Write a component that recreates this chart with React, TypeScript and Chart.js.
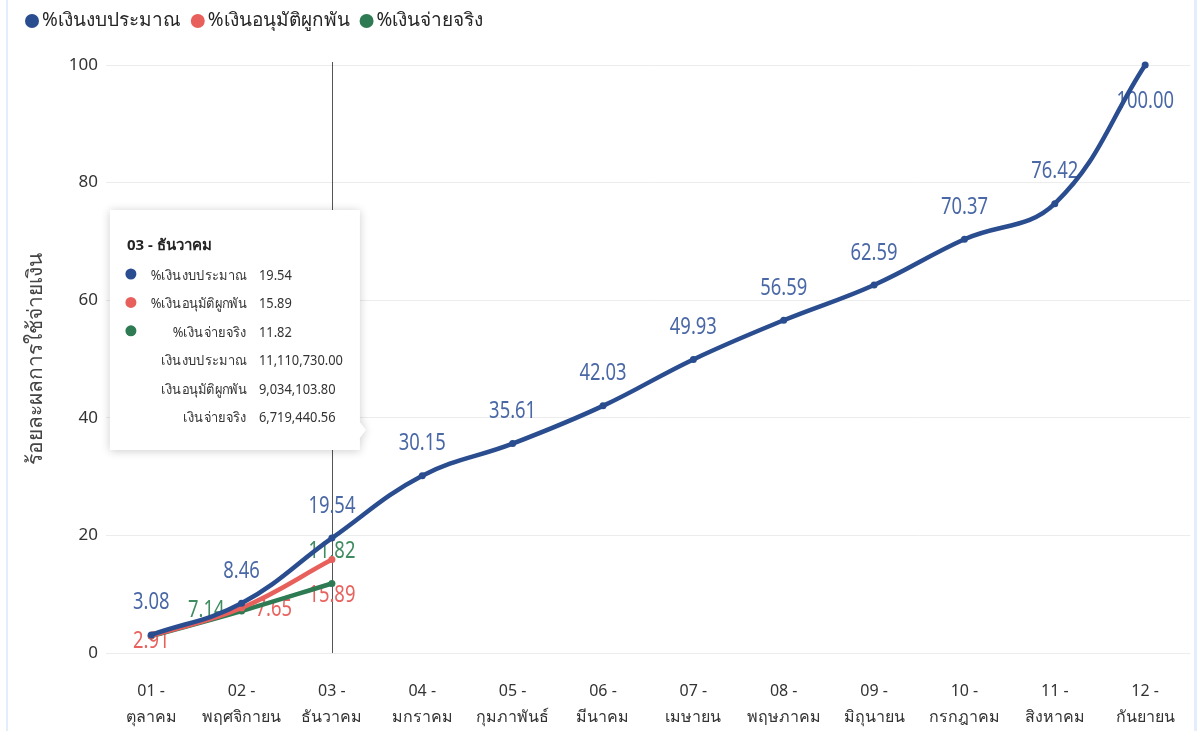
import React, { useEffect, useRef } from 'react';
import { Chart, registerables } from 'chart.js';

Chart.register(...registerables);

const monthCodes = ['01 -', '02 -', '03 -', '04 -', '05 -', '06 -', '07 -', '08 -', '09 -', '10 -', '11 -', '12 -'];
const monthNames = ['ตุลาคม', 'พฤศจิกายน', 'ธันวาคม', 'มกราคม', 'กุมภาพันธ์', 'มีนาคม', 'เมษายน', 'พฤษภาคม', 'มิถุนายน', 'กรกฎาคม', 'สิงหาคม', 'กันยายน'];

const seriesNames = ['%เงินงบประมาณ', '%เงินอนุมัติผูกพัน', '%เงินจ่ายจริง'];
const budgetPct = [3.08, 8.46, 19.54, 30.15, 35.61, 42.03, 49.93, 56.59, 62.59, 70.37, 76.42, 100.0];
const committedPct = [2.91, 7.65, 15.89];
const paidPct = [2.88, 7.14, 11.82];

const yTicks = [0, 20, 40, 60, 80, 100];
const yTitle = 'ร้อยละผลการใช้จ่ายเงิน';

// label placement keywords per point (null = hidden)
const budgetLabelPos = ['above', 'above', 'above', 'above', 'above', 'above', 'above', 'above', 'above', 'above', 'above', 'below'];
const committedLabelPos = ['below', 'right', 'below'];
const paidLabelPos = [null, 'left', 'above'];

const tooltipIndex = 2;
const tooltipTitle = '03 - ธันวาคม';
const amountNames = ['เงินงบประมาณ', 'เงินอนุมัติผูกพัน', 'เงินจ่ายจริง'];
const amountValues = ['11,110,730.00', '9,034,103.80', '6,719,440.56'];

const lineColors = ['#2a4d8f', '#e8605c', '#2e7a52'];
const labelColors = ['#4a68a6', '#e8625e', '#3f8c60'];

const FONT = '"Segoe UI", "Noto Sans", "DejaVu Sans", sans-serif';

const fillNarrow = (ctx: any, text: string, x: number, y: number, sx: number, align: string) => {
  ctx.save();
  ctx.translate(x, y);
  ctx.scale(sx, 1);
  ctx.textAlign = align;
  ctx.fillText(text, 0, 0);
  ctx.restore();
};

const overlayPlugin = {
  id: 'overlay',
  beforeDatasetsDraw(chart: any) {
    const ctx = chart.ctx;
    const area = chart.chartArea;
    const xs = chart.scales.x;
    // vertical hover line
    const vx = Math.round(xs.getPixelForValue(tooltipIndex)) + 0.5;
    ctx.save();
    ctx.strokeStyle = '#555';
    ctx.lineWidth = 1;
    ctx.beginPath();
    ctx.moveTo(vx, area.top - 3);
    ctx.lineTo(vx, area.bottom);
    ctx.stroke();
    ctx.restore();

    // data labels (beneath the lines)
    const placements = [budgetLabelPos, committedLabelPos, paidLabelPos];
    const sx = 0.8;
    ctx.save();
    ctx.font = '23px ' + FONT;
    ctx.textBaseline = 'middle';
    chart.data.datasets.forEach((ds: any, di: number) => {
      const meta = chart.getDatasetMeta(di);
      ctx.fillStyle = labelColors[di];
      meta.data.forEach((pt: any, i: number) => {
        const pos = placements[di][i];
        if (!pos) return;
        const text = Number(ds.data[i]).toFixed(2);
        const w = ctx.measureText(text).width * sx;
        let cx = pt.x;
        let cy = pt.y;
        if (pos === 'above') cy -= 32;
        else if (pos === 'below') cy += 36;
        else if (pos === 'right') { cx += w / 2 + 14; cy += 1; }
        else if (pos === 'left') { cx -= w / 2 + 17; cy -= 1; }
        cy = Math.min(cy, area.bottom - 12);
        fillNarrow(ctx, text, cx, cy, sx, 'center');
      });
    });
    ctx.restore();
  },
  afterDraw(chart: any) {
    const ctx = chart.ctx;
    const area = chart.chartArea;
    const xs = chart.scales.x;

    // legend
    ctx.save();
    ctx.font = '19px ' + FONT;
    ctx.textBaseline = 'middle';
    ctx.textAlign = 'left';
    let lx = 25;
    const ly = 21;
    seriesNames.forEach((name, i) => {
      ctx.fillStyle = lineColors[i];
      ctx.beginPath();
      ctx.arc(lx + 7, ly, 7, 0, Math.PI * 2);
      ctx.fill();
      ctx.fillStyle = '#252525';
      ctx.fillText(name, lx + 17, ly);
      lx += 17 + ctx.measureText(name).width + 10;
    });
    ctx.restore();

    // y axis title
    ctx.save();
    ctx.translate(36, (area.top + area.bottom) / 2);
    ctx.rotate(-Math.PI / 2);
    ctx.font = '21px ' + FONT;
    ctx.fillStyle = '#444';
    ctx.textAlign = 'center';
    ctx.textBaseline = 'middle';
    ctx.fillText(yTitle, 0, 0);
    ctx.restore();

    // tooltip
    const px = xs.getPixelForValue(tooltipIndex);
    const bx = px - 222;
    const by = area.top + 145;
    const bw = 250;
    const bh = 240;
    ctx.save();
    ctx.shadowColor = 'rgba(0,0,0,0.2)';
    ctx.shadowBlur = 10;
    ctx.shadowOffsetX = 0;
    ctx.shadowOffsetY = 1;
    ctx.fillStyle = '#ffffff';
    ctx.beginPath();
    ctx.moveTo(bx, by);
    ctx.lineTo(bx + bw, by);
    ctx.lineTo(bx + bw, by + bh - 28);
    ctx.lineTo(bx + bw + 6, by + bh - 20);
    ctx.lineTo(bx + bw, by + bh - 12);
    ctx.lineTo(bx + bw, by + bh);
    ctx.lineTo(bx, by + bh);
    ctx.closePath();
    ctx.fill();
    ctx.restore();

    ctx.save();
    ctx.textBaseline = 'middle';
    ctx.fillStyle = '#252525';
    ctx.font = 'bold 15px ' + FONT;
    ctx.textAlign = 'left';
    ctx.fillText(tooltipTitle, bx + 17, by + 36);
    const rowLabels = [...seriesNames, ...amountNames];
    const pctValues = [budgetPct[tooltipIndex], committedPct[tooltipIndex], paidPct[tooltipIndex]].map((v) => v.toFixed(2));
    const rowValues = [...pctValues, ...amountValues];
    ctx.font = '14px ' + FONT;
    rowLabels.forEach((lab, i) => {
      const ry = by + 66 + i * 28.4;
      if (i < 3) {
        ctx.fillStyle = lineColors[i];
        ctx.beginPath();
        ctx.arc(bx + 21, ry - 2, 5.5, 0, Math.PI * 2);
        ctx.fill();
      }
      ctx.fillStyle = '#333';
      fillNarrow(ctx, lab, bx + 137, ry, 0.92, 'right');
      fillNarrow(ctx, rowValues[i], bx + 149, ry, 0.92, 'left');
    });
    ctx.restore();
  },
};

export default function App() {
  const canvasRef = useRef<HTMLCanvasElement | null>(null);

  useEffect(() => {
    document.body.style.margin = '0';
    const canvas = canvasRef.current;
    if (!canvas) return;
    const labels = monthCodes.map((c, i) => [c, monthNames[i]]);
    const mk = (data: number[], i: number) => ({
      label: seriesNames[i],
      data,
      borderColor: lineColors[i],
      backgroundColor: lineColors[i],
      borderWidth: 4.5,
      pointRadius: 3.5,
      pointBorderWidth: 0,
      pointBackgroundColor: lineColors[i],
      tension: 0.4,
      fill: false,
      clip: false,
      order: i,
    });
    const chart = new Chart(canvas, {
      type: 'line',
      data: {
        labels,
        datasets: [mk(budgetPct, 0), mk(committedPct, 1), mk(paidPct, 2)],
      },
      options: {
        responsive: false,
        animation: false,
        devicePixelRatio: 1,
        layout: { padding: { top: 65, right: 8, left: 0, bottom: 0 } },
        plugins: {
          legend: { display: false },
          tooltip: { enabled: false },
        },
        scales: {
          x: {
            offset: true,
            grid: { display: false, drawTicks: false },
            border: { display: false },
            ticks: {
              font: { size: 16, family: FONT, lineHeight: 1.6 },
              color: '#333',
              padding: 26,
              maxRotation: 0,
              autoSkip: false,
            },
            afterFit: (s: any) => { s.height = 78; },
          },
          y: {
            min: 0,
            max: 100,
            afterBuildTicks: (s: any) => { s.ticks = yTicks.map((v) => ({ value: v })); },
            ticks: { font: { size: 17, family: FONT }, color: '#333', padding: 8 },
            grid: { color: '#ececec', drawTicks: false, lineWidth: 1 },
            border: { display: false },
            afterFit: (s: any) => { s.width = 106; },
          },
        },
      },
      plugins: [overlayPlugin],
    });
    return () => chart.destroy();
  }, []);

  return (
    <div style={{ position: 'relative', width: 1201, height: 731, background: '#fff' }}>
      <div style={{ position: 'absolute', left: 6, top: 0, width: 2, height: 731, background: '#e4eefa' }} />
      <div style={{ position: 'absolute', left: 1194, top: 0, width: 3, height: 731, background: '#e4eefa' }} />
      <canvas ref={canvasRef} width={1201} height={731} style={{ position: 'absolute', left: 0, top: 0, display: 'block' }} />
    </div>
  );
}
